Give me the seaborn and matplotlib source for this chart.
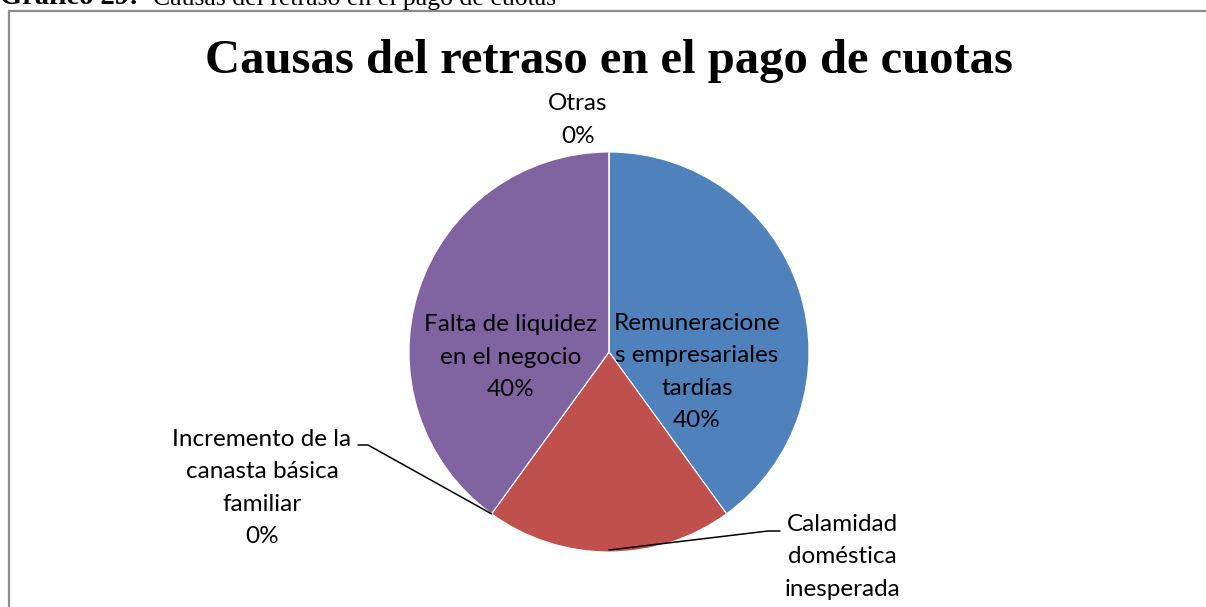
import numpy as np
import matplotlib.pyplot as plt
import seaborn as sns
from matplotlib.patches import Rectangle

sns.set_style('white')

# Data
categories = ['Remuneraciones empresariales tardías', 'Calamidad doméstica inesperada',
              'Incremento de la canasta básica familiar', 'Falta de liquidez en el negocio', 'Otras']
values = [40, 20, 0, 40, 0]
label_texts = ['Remuneracione\ns empresariales\ntardías\n40%',
               'Calamidad\ndoméstica\ninesperada\n20%',
               'Incremento de la\ncanasta básica\nfamiliar\n0%',
               'Falta de liquidez\nen el negocio\n40%',
               'Otras\n0%']
colors = ['#4F81BD', '#C0504D', '#8064A2', '#8064A2', '#8064A2']

W, H = 1206, 607
fig = plt.figure(figsize=(W / 100, H / 100), dpi=100)
ax = fig.add_axes([0, 0, 1, 1])

cx, cy, r = 609, H - 352, 200
wedges, _ = ax.pie(values, colors=colors, startangle=90, counterclock=False,
                   center=(cx, cy), radius=r, frame=True,
                   wedgeprops=dict(edgecolor='white', linewidth=0.8))
ax.set_xlim(0, W)
ax.set_ylim(0, H)
ax.set_aspect('equal')
ax.axis('off')

label_font = ['Lato', 'DejaVu Sans']
fs = 17.5
# label positions (pixel coords, center)
pos = [(697, 372), (842, 573), (262, 488), (511, 357), (578, 120)]
for txt, (x, y) in zip(label_texts, pos):
    ax.text(x, H - y, txt, ha='center', va='center', fontsize=fs,
            family=label_font, linespacing=1.68, color='black')

# leader lines
cum = np.cumsum([0] + values) / sum(values)
def edge_point(frac):
    ang = np.deg2rad(90 - 360 * frac)
    return cx + r * np.cos(ang), cy + r * np.sin(ang)

x0, y0 = edge_point((cum[2] + cum[3]) / 2)
ax.plot([358, 368, x0], [H - 445, H - 445, y0], color='black', lw=1.1)
x1, y1 = edge_point((cum[1] + cum[2]) / 2)
ax.plot([x1, 768, 780], [y1 + 2, H - 531, H - 531], color='black', lw=1.1)

# chart frame
ax.add_patch(Rectangle((8.5, -50), 1300, H - 10.5 + 50, fill=False,
                       edgecolor='#8a8a8a', lw=1.6, clip_on=False))

# title
ax.text(cx, H - 73, 'Causas del retraso en el pago de cuotas', ha='center', va='baseline',
        fontsize=35, fontweight='bold', family='Liberation Serif', color='black')

# caption (cut at top)
fig.text(0, 1 - 4.5 / H, 'Gráfico 29:', ha='left', va='baseline', fontsize=20.5,
         fontweight='bold', family='Liberation Serif', color='black')
fig.text(153 / W, 1 - 4.5 / H, 'Causas del retraso en el pago de cuotas', ha='left',
         va='baseline', fontsize=18.5, family='Liberation Serif', color='black')

fig.savefig('out.png', dpi=100, facecolor='white')
